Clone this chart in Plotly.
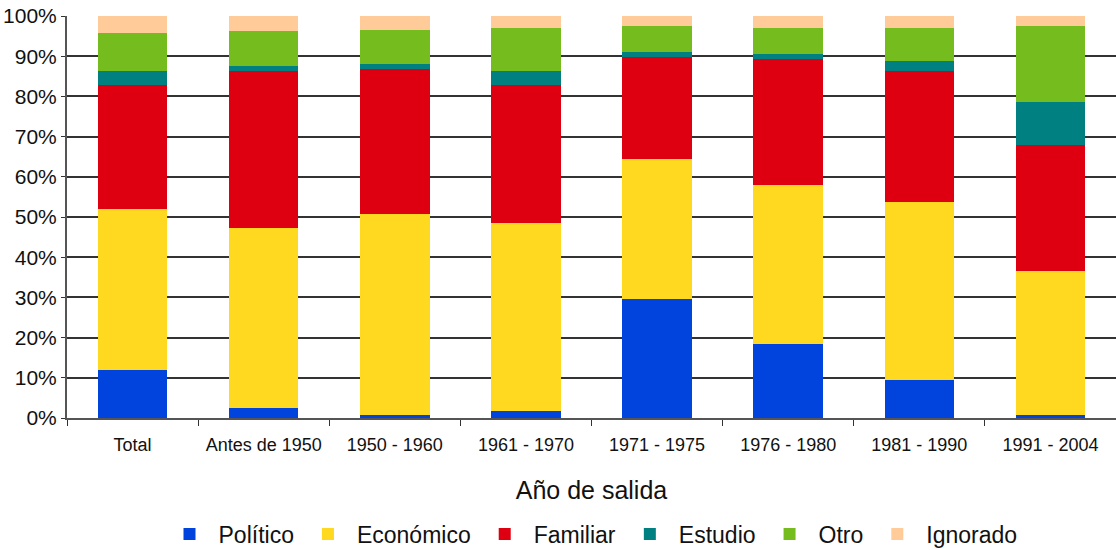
import plotly.graph_objects as go

# categories (x axis)
periods = ["Total", "Antes de 1950", "1950 - 1960", "1961 - 1970",
           "1971 - 1975", "1976 - 1980", "1981 - 1990", "1991 - 2004"]

# share of each reason per period, in %
politico = [11.9, 2.5, 0.7, 1.7, 29.6, 18.4, 9.5, 0.7]
economico = [40.1, 44.8, 50.0, 46.8, 34.8, 39.6, 44.3, 35.9]
familiar = [30.8, 39.0, 36.1, 34.3, 25.4, 31.3, 32.5, 31.3]
estudio = [3.5, 1.3, 1.3, 3.5, 1.2, 1.2, 2.5, 10.7]
otro = [9.5, 8.7, 8.4, 10.7, 6.5, 6.5, 8.2, 18.9]
ignorado = [4.2, 3.7, 3.5, 3.0, 2.5, 3.0, 3.0, 2.5]

series = [
    ("Político", politico, "#0043DD"),
    ("Económico", economico, "#FFD820"),
    ("Familiar", familiar, "#DE0010"),
    ("Estudio", estudio, "#008080"),
    ("Otro", otro, "#75BD1F"),
    ("Ignorado", ignorado, "#FFCC99"),
]

fig = go.Figure()
for name, vals, col in series:
    fig.add_trace(go.Bar(
        x=periods, y=vals, name=name,
        marker=dict(color=col, line=dict(width=0)),
    ))

fig.update_layout(
    barmode="stack",
    bargap=0.47,
    width=1116, height=550,
    margin=dict(l=67, r=0, t=16, b=132, autoexpand=False),
    plot_bgcolor="white",
    paper_bgcolor="white",
    font=dict(family="Liberation Sans, Arial, sans-serif", color="#111111"),
    showlegend=True,
    legend=dict(
        orientation="h", x=0.5, xanchor="center", y=-0.235, yanchor="top",
        font=dict(size=23), itemwidth=48, traceorder="normal",
    ),
    xaxis=dict(
        automargin=False,
        title=dict(text="Año de salida", font=dict(size=25), standoff=28),
        tickfont=dict(size=18),
        ticklabelstandoff=9,
        ticks="outside", tickson="boundaries", ticklen=6, tickcolor="#333333",
        showline=True, linecolor="#555555", linewidth=2,
        showgrid=False,
    ),
    yaxis=dict(
        automargin=False,
        range=[0, 100], dtick=10, ticksuffix="%",
        tickfont=dict(size=21),
        showgrid=True, gridcolor="#333333", gridwidth=1.5,
        ticks="outside", ticklen=4, tickcolor="#333333",
        showline=True, linecolor="#555555", linewidth=2,
        zeroline=False,
    ),
)

# drop the page's default body margin so the figure fills the window
fig.write_html(
    "out.html",
    config={"displayModeBar": False},
    post_script="document.body.style.margin='0';",
)
